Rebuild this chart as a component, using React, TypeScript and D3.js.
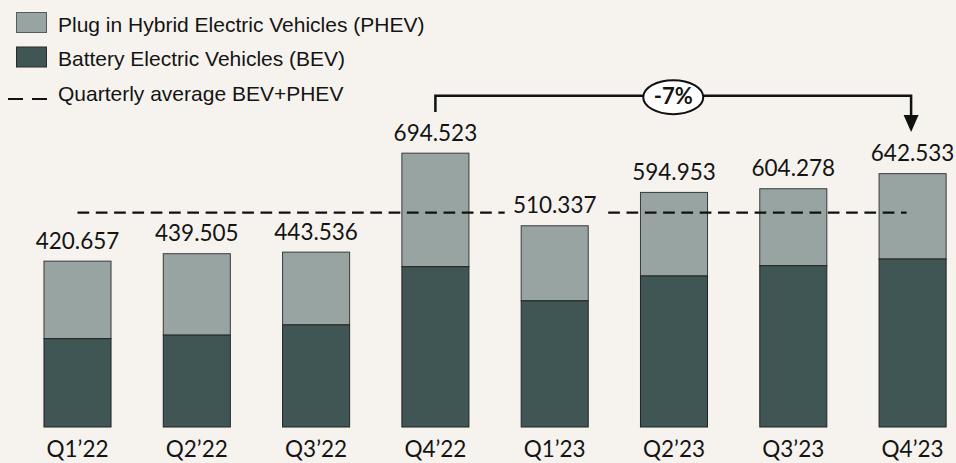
import React from "react";
import * as d3 from "d3";

const quarters = ["Q1’22", "Q2’22", "Q3’22", "Q4’22", "Q1’23", "Q2’23", "Q3’23", "Q4’23"];
const totals = [420.657, 439.505, 443.536, 694.523, 510.337, 594.953, 604.278, 642.533];
const bev = [224, 233, 259, 406.5, 320, 383, 409, 426];
const totalLabels = ["420.657", "439.505", "443.536", "694.523", "510.337", "594.953", "604.278", "642.533"];
const legendItems = [
  "Plug in Hybrid Electric Vehicles (PHEV)",
  "Battery Electric Vehicles (BEV)",
  "Quarterly average BEV+PHEV",
];
const changeLabel = "-7%";

const W = 956;
const H = 463;
const BG = "#f6f3ee";
const PHEV_C = "#97a4a2";
const BEV_C = "#405654";
const TXT = "#141414";
const VAL_FONT = "Lato, 'Open Sans', sans-serif";
const LEG_FONT = "'Liberation Sans', Arial, sans-serif";

export default function App() {
  const x = d3.scaleBand<string>().domain(quarters).range([17.85, 972.25]).paddingInner(0.438).paddingOuter(0.219);
  const y = d3.scaleLinear().domain([0, 700]).range([427, 151]);
  const bw = x.bandwidth();
  const avg = d3.mean(totals) as number;
  const cx = (i: number) => (x(quarters[i]) as number) + bw / 2;

  const x0 = cx(3);
  const x1 = cx(7) - 1.5;
  const topY = 95.7;
  const midX = (x0 + x1) / 2;

  return (
    <svg width={W} height={H} style={{ position: "fixed", left: 0, top: 0, display: "block" }}>
      <rect x={0} y={0} width={W} height={H} fill={BG} />

      {/* Legend */}
      <rect x={16.5} y={12.5} width={30} height={20} fill={PHEV_C} stroke="#5a5a5a" strokeWidth={1} />
      <text x={58} y={31.5} fontFamily={LEG_FONT} fontSize={21} fill={TXT}>{legendItems[0]}</text>
      <rect x={16.5} y={47} width={30} height={20} fill={BEV_C} stroke="#2a2a2a" strokeWidth={1} />
      <text x={58} y={66} fontFamily={LEG_FONT} fontSize={21} fill={TXT}>{legendItems[1]}</text>
      <line x1={8} x2={47} y1={99} y2={99} stroke="#111" strokeWidth={2} strokeDasharray="15 9" />
      <text x={58} y={100.5} fontFamily={LEG_FONT} fontSize={21} fill={TXT}>{legendItems[2]}</text>

      {/* Bars */}
      {quarters.map((q, i) => {
        const bx = x(q) as number;
        const yTot = y(totals[i]);
        const yBev = y(bev[i]);
        return (
          <g key={q}>
            <rect x={bx} y={yTot} width={bw} height={yBev - yTot} fill={PHEV_C} stroke="#3a3a3a" strokeWidth={1} />
            <rect x={bx} y={yBev} width={bw} height={y(0) - yBev} fill={BEV_C} stroke="#222" strokeWidth={1} />
          </g>
        );
      })}

      {/* Average dashed line */}
      <line x1={cx(0)} x2={cx(7) - 6} y1={y(avg)} y2={y(avg)} stroke="#111" strokeWidth={2.2} strokeDasharray="11.7 6.6" />

      {/* Value labels */}
      {quarters.map((q, i) => {
        const ty = y(totals[i]) - 12.5;
        return (
          <g key={"l" + q}>
            {i === 4 && <rect x={cx(i) - 50} y={ty - 18} width={100} height={22} fill={BG} />}
            <text x={cx(i)} y={ty} textAnchor="middle" fontFamily={VAL_FONT} fontSize={22.5} fill={TXT}>
              {totalLabels[i]}
            </text>
          </g>
        );
      })}

      {/* Axis labels */}
      {quarters.map((q, i) => (
        <text key={"a" + q} x={cx(i)} y={457} textAnchor="middle" fontFamily={VAL_FONT} fontSize={22.5} fill={TXT}>
          {q}
        </text>
      ))}

      {/* Change annotation */}
      <path
        d={`M${x0},112 L${x0},${topY} L${x1},${topY} L${x1},116`}
        fill="none"
        stroke="#111"
        strokeWidth={2.5}
      />
      <path d={`M${x1 - 7.5},115 L${x1 + 7.5},115 L${x1},132 Z`} fill="#111" />
      <ellipse cx={midX} cy={97.2} rx={30} ry={17} fill="#fff" stroke="#111" strokeWidth={2} />
      <text x={midX} y={103.5} textAnchor="middle" fontFamily={VAL_FONT} fontWeight="bold" fontSize={22} fill={TXT}>
        {changeLabel}
      </text>
    </svg>
  );
}
